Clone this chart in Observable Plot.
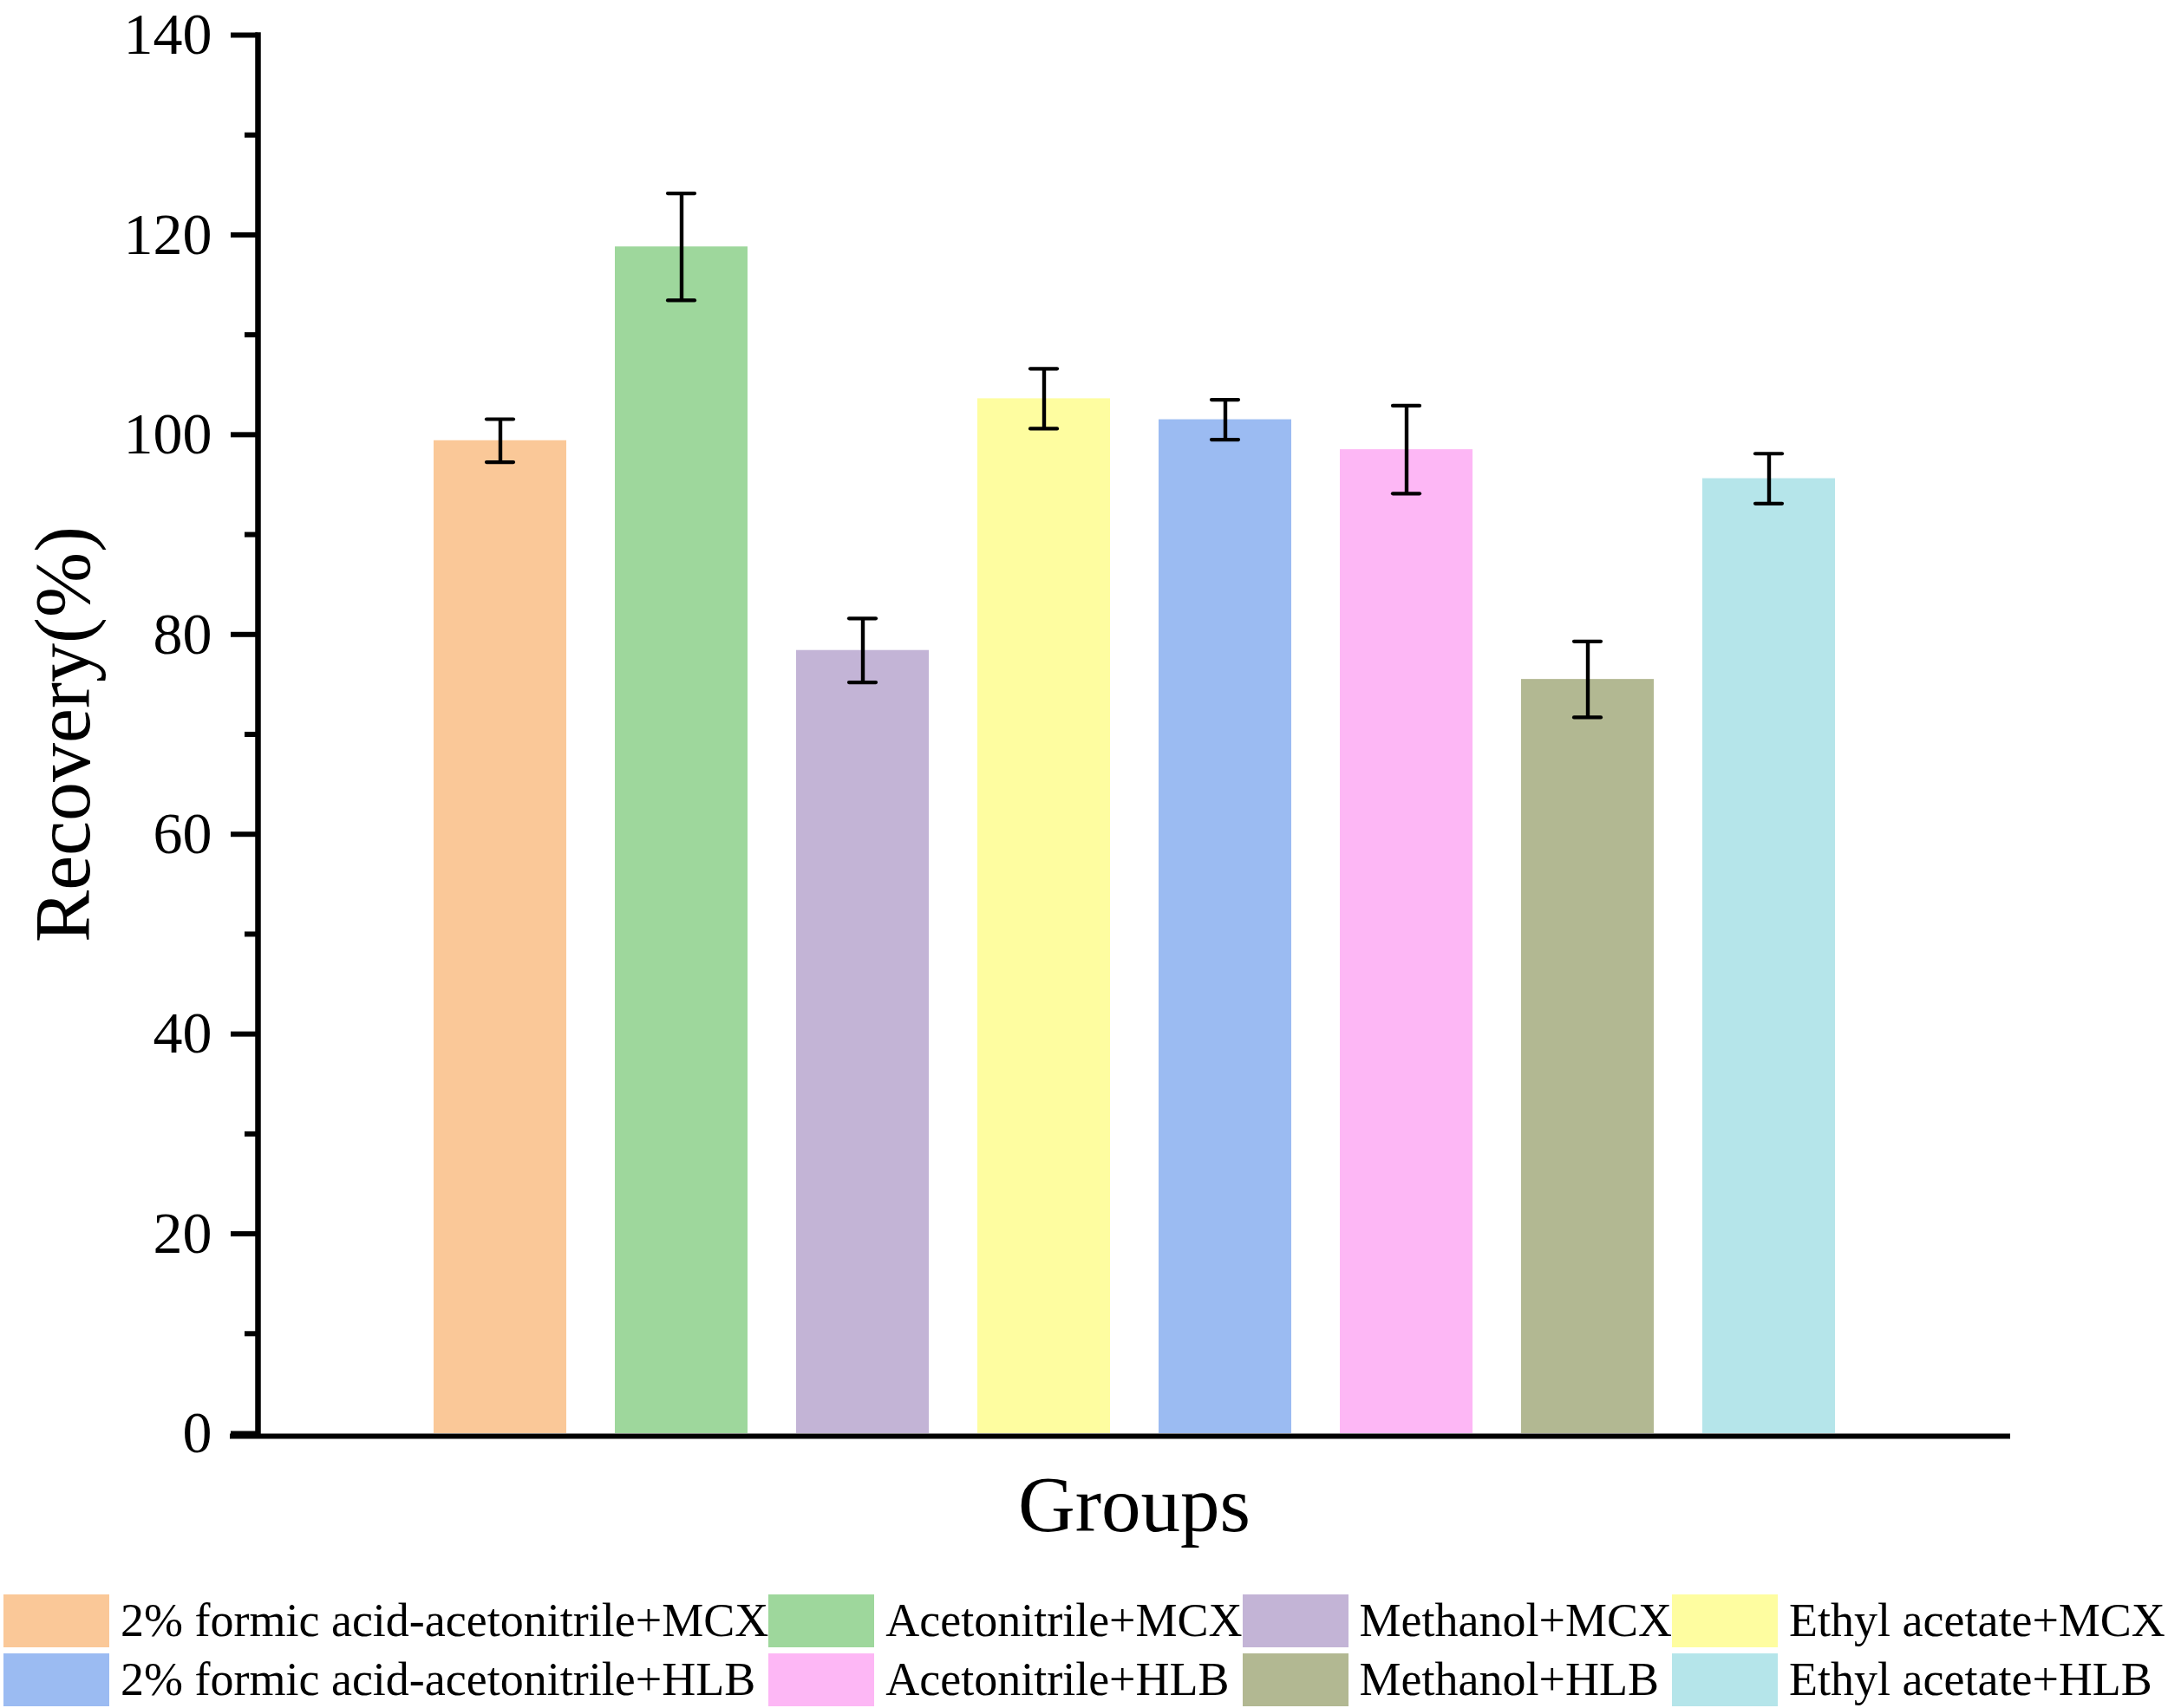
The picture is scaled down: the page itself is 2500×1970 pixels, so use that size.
<!DOCTYPE html>
<html>
<head>
<meta charset="utf-8">
<script src="https://cdn.jsdelivr.net/npm/d3@7"></script>
<script src="https://cdn.jsdelivr.net/npm/@observablehq/plot@0.6"></script>
<style>
  body { margin: 0; padding-top: 7px; background: #fff; font-family: "Liberation Serif", "Times New Roman", serif; }
  #chart svg { display: block; overflow: visible; }
  .legend { display: grid; grid-template-columns: repeat(4, max-content); column-gap: 0; row-gap: 6.5px; margin: 39px 0 0 4px; }
  .item { display: flex; align-items: center; height: 61px; }
  .swatch { width: 122px; height: 61px; flex: none; }
  .label { margin-left: 13px; font-size: 54px; line-height: 61px; white-space: nowrap; color: #000; }
</style>
</head>
<body>
<div id="chart"></div>
<script>
// data
const groups = [
	'2% formic acid-acetonitrile+MCX',
	'Acetonitrile+MCX',
	'Methanol+MCX',
	'Ethyl acetate+MCX',
	'2% formic acid-acetonitrile+HLB',
	'Acetonitrile+HLB',
	'Methanol+HLB',
	'Ethyl acetate+HLB'
];
const recovery = [99.4, 118.8, 78.4, 103.6, 101.5, 98.5, 75.5, 95.6];
const sd = [2.15, 5.35, 3.2, 3.0, 2.0, 4.4, 3.8, 2.5];
const colors = ['#FAC898', '#9ED79C', '#C3B4D6', '#FEFDA0', '#9BBBF2', '#FDB7F5', '#B2B892', '#B5E5EA'];
const yTicks = [0, 20, 40, 60, 80, 100, 120, 140];
const yMinorTicks = [10, 30, 50, 70, 90, 110, 130];

const data = groups.map((g, i) => ({
	group: g,
	recovery: recovery[i],
	low: recovery[i] - sd[i],
	high: recovery[i] + sd[i]
}));


// plot
const fig = Plot.plot({
	width: 2500,
	height: 1793,
	marginTop: 33,
	marginBottom: 147,
	marginLeft: 297,
	marginRight: 182,
	style: {fontFamily: '"Liberation Serif", "Times New Roman", serif', color: '#000', background: '#fff'},
	x: {domain: groups, paddingInner: 0.2693, paddingOuter: 0.965, axis: null},
	y: {domain: [0, 140]},
	color: {domain: groups, range: colors},
	marks: [
		Plot.barY(data, {x: 'group', y: 'recovery', fill: 'group'}),
		Plot.ruleX(data, {x: 'group', y1: 'low', y2: 'high', stroke: '#000', strokeWidth: 4.4}),
		Plot.tickY(data, {x: 'group', y: 'low', stroke: '#000', strokeWidth: 4.2, strokeLinecap: 'round', inset: 61}),
		Plot.tickY(data, {x: 'group', y: 'high', stroke: '#000', strokeWidth: 4.2, strokeLinecap: 'round', inset: 61}),
		Plot.axisY({ticks: yTicks, tickSize: 31, tickPadding: 22, fontSize: 68, strokeWidth: 6, label: null}),
		Plot.axisY({ticks: yMinorTicks, tickSize: 15, tickFormat: () => '', strokeWidth: 6, label: null}),
		Plot.frame({anchor: 'left', stroke: '#000', strokeWidth: 6.5}),
		Plot.ruleY([0], {stroke: '#000', strokeWidth: 6, insetLeft: -32, dy: 3}),
		Plot.text(['Recovery(%)'], {frameAnchor: 'left', textAnchor: 'middle', rotate: -90, dx: -195, lineAnchor: 'bottom', fontSize: 90, fill: '#000'}),
		Plot.text(['Groups'], {frameAnchor: 'bottom', textAnchor: 'middle', dy: 112, lineAnchor: 'bottom', fontSize: 91, fill: '#000'})
	]
});

document.querySelector('#chart').append(fig);


// legend
const legend = document.createElement('div');
legend.className = 'legend';
groups.forEach((g, i) => {
	const item = document.createElement('div');
	item.className = 'item';
	const sw = document.createElement('div');
	sw.className = 'swatch';
	sw.style.background = colors[i];
	const lab = document.createElement('span');
	lab.className = 'label';
	lab.textContent = g;
	item.append(sw, lab);
	legend.append(item);
});
document.body.append(legend);
</script>
</body>
</html>
